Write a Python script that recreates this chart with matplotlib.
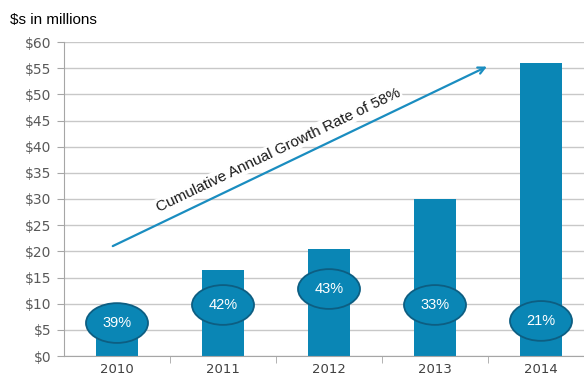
import matplotlib.pyplot as plt
from matplotlib.patches import Ellipse

years = ['2010', '2011', '2012', '2013', '2014']
revenue = [6.0, 16.4, 20.4, 30.0, 56.0]
growth_labels = ['39%', '42%', '43%', '33%', '21%']
label_y = [6.3, 9.75, 12.8, 9.75, 6.7]

bar_color = '#0A86B5'
edge_color = '#0D5E82'

fig = plt.figure(figsize=(5.84, 3.76), dpi=100)
ax = fig.add_axes([64 / 584, 20 / 376, 530 / 584, 314 / 376])

x = range(len(years))
ax.bar(x, revenue, width=0.4, color=bar_color, zorder=2)

for i, (lab, yy) in enumerate(zip(growth_labels, label_y)):
    ax.add_patch(Ellipse((i, yy), 0.585, 7.6, facecolor=bar_color,
                         edgecolor=edge_color, linewidth=1.3, zorder=3))
    ax.text(i, yy, lab, ha='center', va='center', color='white',
            fontsize=10.5, family='Liberation Sans', zorder=4)

ax.set_xlim(-0.5, 4.5)
ax.set_ylim(0, 60)
ax.set_yticks(range(0, 61, 5))
ax.set_yticklabels([f'${v}' for v in range(0, 61, 5)])
ax.set_xticks(list(x))
ax.set_xticklabels(years)
ax.set_xticks([0.5, 1.5, 2.5, 3.5], minor=True)

ax.grid(True, axis='y', color='#C8C8C8', linewidth=1, zorder=0)
ax.set_axisbelow(True)
for s in ['top', 'right']:
    ax.spines[s].set_visible(False)
for s in ['left', 'bottom']:
    ax.spines[s].set_color('#A6A6A6')

ax.tick_params(axis='y', colors='#A6A6A6', labelcolor='#595959', labelsize=10, length=5, pad=4)
ax.tick_params(axis='x', which='major', length=0, labelcolor='#404040', labelsize=9.5, pad=5)
ax.tick_params(axis='x', which='minor', colors='#A6A6A6', length=5)

ax.annotate('', xy=(3.49, 55.3), xytext=(-0.04, 21.0),
            arrowprops=dict(arrowstyle='->', color='#1A8DC0', lw=1.6,
                            shrinkA=0, shrinkB=0, mutation_scale=12), zorder=5)
ax.text(1.52, 39.4, 'Cumulative Annual Growth Rate of 58%', rotation=25.6,
        rotation_mode='anchor', ha='center', va='center', fontsize=11,
        family='Liberation Sans', color='#1A1A1A', zorder=6,
        bbox=dict(facecolor='white', edgecolor='none', pad=1))

fig.text(10 / 584, 1 - 20 / 376, '$s in millions', fontsize=11,
         family='Liberation Sans', va='center', ha='left')

fig.savefig('out.png', dpi=100)
